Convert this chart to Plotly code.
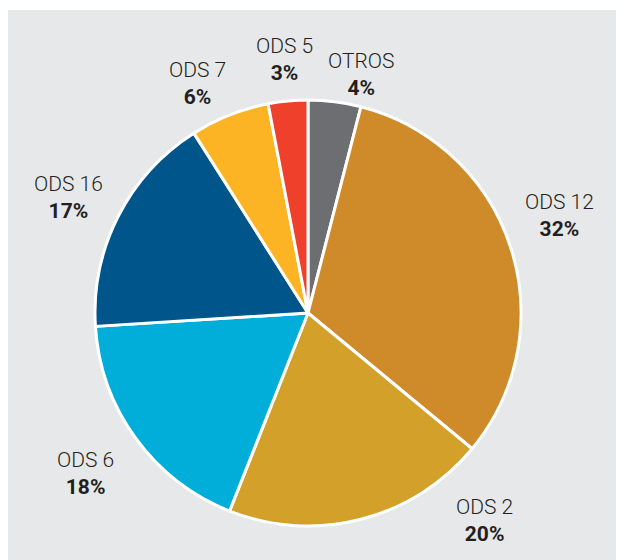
import plotly.graph_objects as go

labels = ["OTROS", "ODS 12", "ODS 2", "ODS 6", "ODS 16", "ODS 7", "ODS 5"]
values = [4, 32, 20, 18, 17, 6, 3]
colors = ["#6d6e71", "#cf8b2a", "#d3a02a", "#00aed9", "#00558b", "#fcb424", "#ef402c"]

W, H = 640, 552
OFF = 8  # page body margin
cx, cy, R = 308 - OFF, 313 - OFF, 213
ml, mr, mt, mb = cx - R, W - (cx + R), cy - R, H - (cy + R)

# label block centers (screen pixels) -- layout only
label_pos = {
    "OTROS": (361, 75),
    "ODS 12": (559, 216),
    "ODS 2": (484, 520),
    "ODS 6": (85, 473),
    "ODS 16": (68, 197),
    "ODS 7": (197, 83),
    "ODS 5": (284, 60),
}

fig = go.Figure(go.Pie(
    labels=labels, values=values, sort=False, direction="clockwise", rotation=0,
    marker=dict(colors=colors, line=dict(color="white", width=3)),
    textinfo="none", hoverinfo="label+percent", showlegend=False,
))

pw, ph = W - ml - mr, H - mt - mb
total = sum(values)
for lab, val in zip(labels, values):
    px, py = label_pos[lab]
    px, py = px - OFF, py - OFF
    pct = round(100 * val / total)
    fig.add_annotation(
        x=(px - ml) / pw, y=1 - (py - mt) / ph, xref="paper", yref="paper",
        text=f"<span style='font-weight:300'>{lab}</span><br><b>{pct}%</b>",
        showarrow=False, xanchor="center", yanchor="middle",
        font=dict(family="Roboto", size=21, color="#231f20"),
    )

fig.add_shape(type="rect", xref="paper", yref="paper",
              x0=(-5 - ml) / pw, x1=(W + 5 - ml) / pw,
              y0=1 - (H + 5 - mt) / ph, y1=1 - (2 - mt) / ph,
              fillcolor="#e7e8ea", line=dict(width=0), layer="below")

fig.update_layout(
    width=W, height=H, margin=dict(l=ml, r=mr, t=mt, b=mb),
    paper_bgcolor="white", plot_bgcolor="white",
)
fig.write_html("out.html")
